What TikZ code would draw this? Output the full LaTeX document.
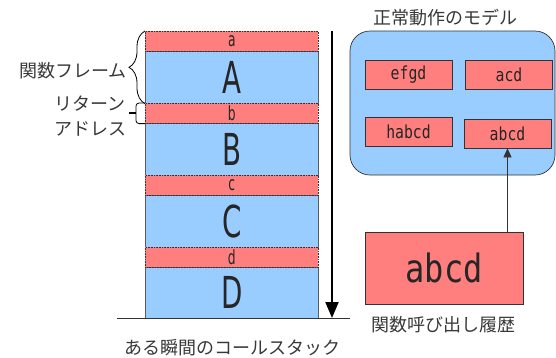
\documentclass[tikz,border=0pt]{standalone}
\usepackage{fontspec}
\usepackage{graphicx}
\setmainfont{DejaVu Sans}
\newfontfamily\jpfont{Noto Sans CJK JP}
\newfontfamily\monofont{DejaVu Sans Mono}
\usetikzlibrary{decorations.pathreplacing,arrows.meta,calc}

\definecolor{frameblue}{HTML}{99CCFF}
\definecolor{addrred}{HTML}{FF7F7F}
\definecolor{edgegrey}{HTML}{333333}

% condensed glyphs for the stack labels and the box labels
\newcommand{\narrowtxt}[1]{\scalebox{0.63}[1]{#1}}
\newcommand{\monotxt}[1]{\scalebox{0.82}[1]{\monofont #1}}

\tikzset{
  framebox/.style={draw=edgegrey!80, fill=frameblue, line width=0.6pt,
    minimum width=173pt, inner sep=0pt, anchor=north west, text=black!85,
    font=\fontsize{44}{44}\selectfont},
  addrbox/.style={draw=edgegrey, densely dotted, fill=addrred, line width=0.6pt,
    minimum width=173pt, minimum height=20pt, inner sep=0pt, anchor=north west,
    text=black!85, font=\fontsize{19.5}{19.5}\selectfont},
  panel/.style={draw=edgegrey, fill=frameblue, line width=0.7pt,
    rounded corners=20pt, minimum width=205pt, minimum height=144pt, inner sep=0pt},
  histbox/.style={draw=edgegrey, fill=addrred, line width=0.7pt,
    minimum width=87pt, minimum height=29pt, inner sep=0pt, text=black!85,
    font=\fontsize{18}{18}\selectfont},
  bighist/.style={draw=edgegrey, fill=addrred, line width=0.7pt,
    minimum width=158pt, minimum height=72pt, inner sep=0pt, text=black!85,
    font=\fontsize{39}{39}\selectfont},
  jplabel/.style={inner sep=0pt, text=black!78, font=\jpfont\fontsize{18}{25}\selectfont},
}

\begin{document}
\begin{tikzpicture}[x=1pt, y=-1pt]
\useasboundingbox (0,0) rectangle (556,357);

% call stack: function frames (blue) with return addresses (red) on top
\node[framebox, minimum height=52pt] (fA) at (145,51) {\narrowtxt{A}};
\node[framebox, minimum height=52pt] (fB) at (145,123) {\narrowtxt{B}};
\node[framebox, minimum height=52pt] (fC) at (145,195) {\narrowtxt{C}};
\node[framebox, minimum height=51pt] (fD) at (145,267) {\narrowtxt{D}};
\node[addrbox] (ra) at (145,31) {\narrowtxt{a}};
\node[addrbox] (rb) at (145,103) {\narrowtxt{b}};
\node[addrbox] (rc) at (145,175) {\narrowtxt{c}};
\node[addrbox] (rd) at (145,247) {\narrowtxt{d}};

% growth direction of the stack and its base line
\coordinate (gtop) at (332,31);
\coordinate (gbot) at (332,318);
\draw[line width=2pt, -{Triangle[length=16pt,width=13pt]}] (gtop) -- (gbot);
\coordinate (basel) at (117,318);
\coordinate (baser) at (350,318);
\draw[line width=0.7pt, edgegrey] (basel) -- (baser);

% brace for one function frame
\draw[line width=0.8pt, decorate, decoration={brace, amplitude=16pt, aspect=0.5}]
  (fA.south west) -- (ra.north west);
% bracket for one return address
\draw[line width=0.8pt, rounded corners=3pt]
  (rb.north west) -- ($(rb.north west)+(-9,0)$) -- ($(rb.south west)+(-9,0)$) -- (rb.south west);
\draw[line width=1.8pt] ($(rb.west)+(-9,0)$) -- ($(rb.west)+(-16,0)$);

\node[jplabel, anchor=east] (frametxt) at (127,71) {関数フレーム};
\node[jplabel, align=center] (rettxt) at (90,116) {リターン\\アドレス};
\node[jplabel] (stacktxt) at (232,348) {ある瞬間のコールスタック};

% model of normal behaviour
\node[panel] (model) at (452.5,103) {};
\node[jplabel] (modeltxt) at (445,18) {正常動作のモデル};
\node[histbox] (efgd) at (408.5,74.5) {\monotxt{efgd}};
\node[histbox] (acd) at (509,74.5) {\monotxt{acd}};
\node[histbox] (habcd) at (408.5,131.5) {\monotxt{habcd}};
\node[histbox] (abcd) at (507.5,133.5) {\monotxt{abcd}};

% observed call history
\node[bighist] (hist) at (444,268) {\monotxt{abcd}};
\node[jplabel] (histtxt) at (443,325) {関数呼び出し履歴};
\draw[line width=0.7pt, edgegrey, -{Triangle[length=9pt,width=8pt]}]
  (hist.north -| abcd.south) -- (abcd.south);
\end{tikzpicture}
\end{document}
